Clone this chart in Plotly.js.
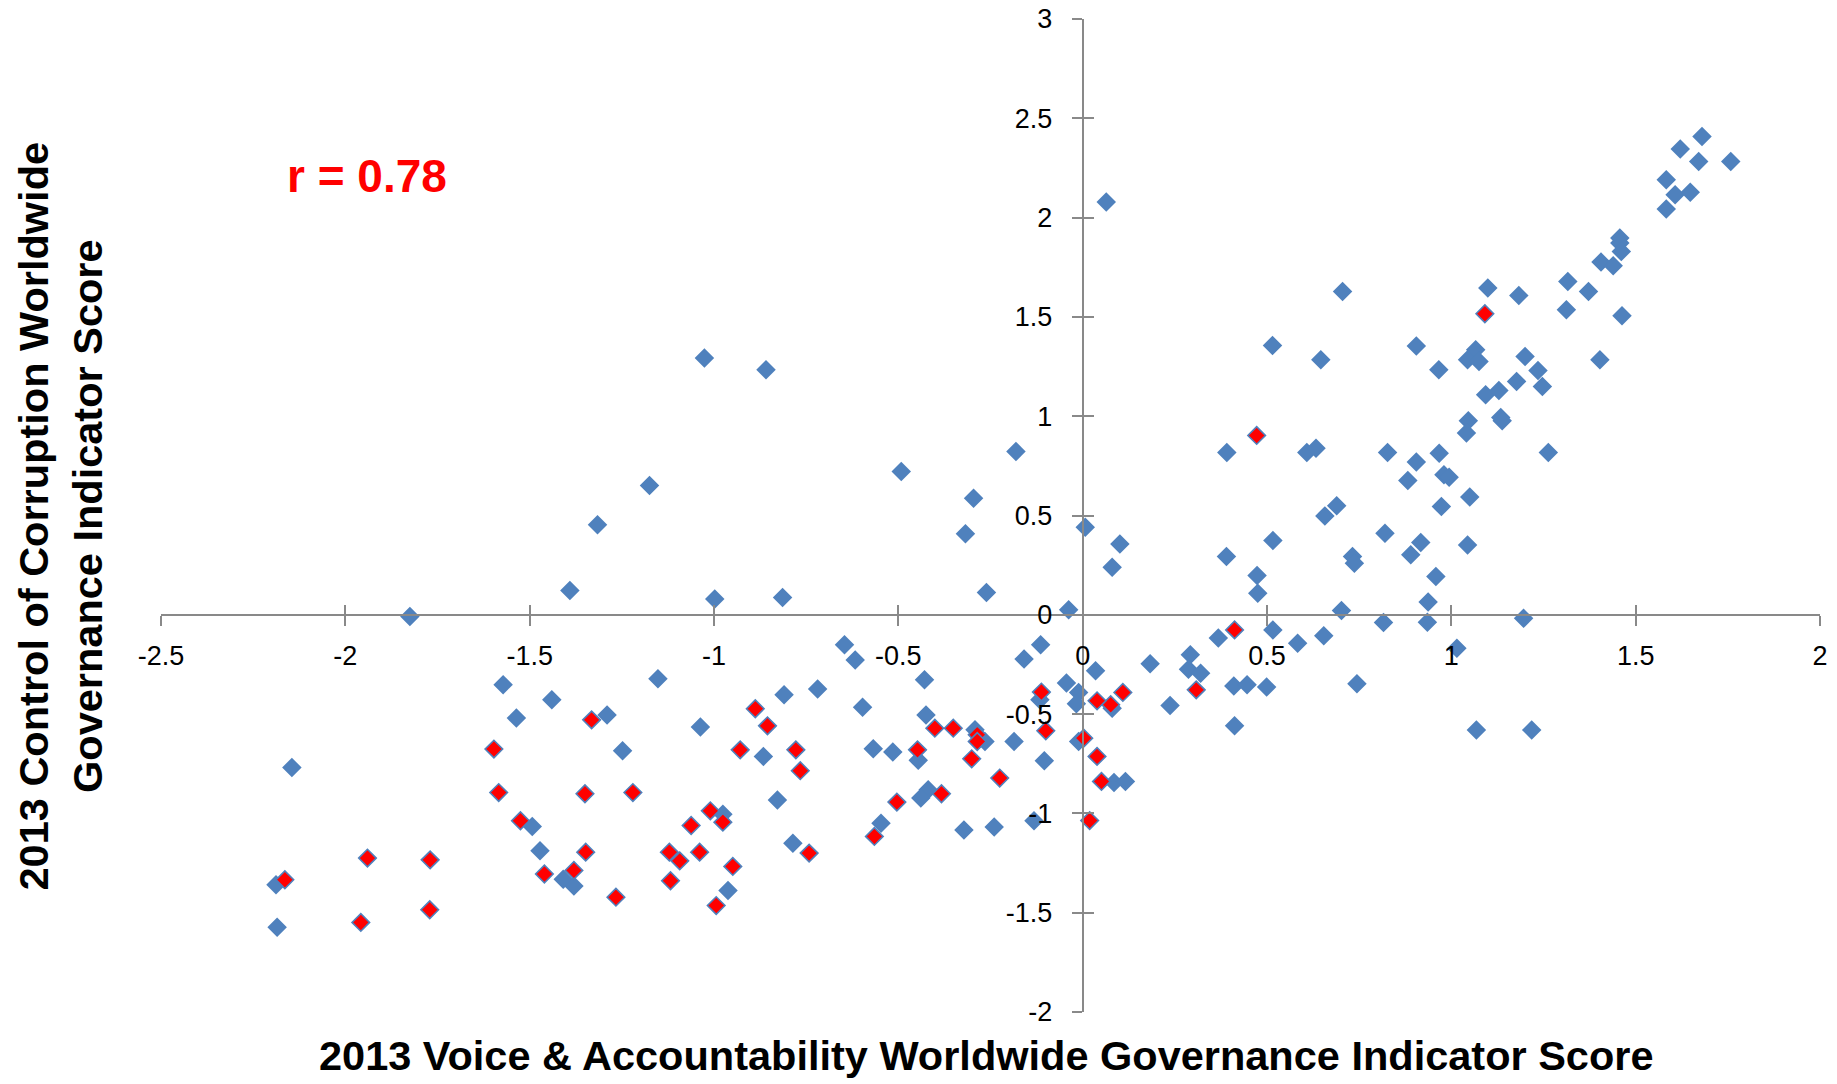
<!DOCTYPE html>
<html>
<head>
<meta charset="utf-8">
<script src="https://cdn.plot.ly/plotly-3.0.1.min.js"></script>
<style>
html,body{margin:0;padding:0;background:#fff;}
#chart{width:1837px;height:1084px;}
</style>
</head>
<body>
<div id="chart"></div>
<script>
// Blue series: countries (Voice & Accountability, Control of Corruption)
const blueX = [1.680,1.621,1.671,1.758,1.583,1.607,1.648,1.583,0.064,1.457,1.457,1.461,1.406,1.439,1.316,1.372,1.183,1.312,1.463,1.200,1.235,1.403,1.177,1.247,0.705,1.099,0.515,0.646,0.905,0.966,1.066,1.044,1.075,1.093,1.129,1.046,1.041,1.134,1.138,0.967,1.263,0.905,0.980,0.994,1.050,0.973,1.044,0.391,0.608,0.633,0.827,0.882,0.657,0.689,0.820,0.917,0.101,0.516,0.390,0.732,0.890,0.080,0.473,0.475,0.737,0.958,0.937,0.935,0.702,0.816,0.516,0.583,0.654,0.368,0.292,0.287,0.320,0.183,0.410,0.446,0.499,0.237,0.412,0.744,1.015,0.035,0.080,1.196,1.068,1.218,
  -0.261,-0.038,-0.646,-0.617,-0.114,-0.159,-0.429,-0.044,-0.011,-0.017,-0.116,-0.597,-0.425,-0.292,-0.265,-0.186,-0.568,-0.515,-0.446,-0.104,-0.011,0.085,0.116,-0.419,-0.439,-0.547,-0.322,-0.240,-0.132,
  -1.152,-1.440,-0.810,-0.719,-1.290,-1.037,-1.248,-0.866,-0.828,-0.976,-0.786,-0.962,-1.409,-1.380,-1.572,-1.536,-2.145,-1.493,-1.472,-2.188,-2.185,
  -1.026,-0.859,-1.175,-1.316,-1.391,-0.998,-0.814,-1.825,-0.492,-0.181,-0.296,-0.318,0.007];
const blueY = [2.408,2.345,2.283,2.283,2.190,2.115,2.128,2.043,2.078,1.897,1.872,1.829,1.776,1.757,1.678,1.628,1.608,1.536,1.506,1.301,1.230,1.284,1.175,1.150,1.628,1.645,1.356,1.284,1.354,1.234,1.334,1.284,1.275,1.108,1.129,0.977,0.915,0.994,0.977,0.814,0.817,0.770,0.705,0.693,0.593,0.545,0.352,0.817,0.817,0.839,0.817,0.676,0.498,0.549,0.411,0.364,0.356,0.374,0.294,0.294,0.302,0.240,0.198,0.109,0.260,0.193,0.064,-0.037,0.022,-0.039,-0.076,-0.143,-0.106,-0.117,-0.201,-0.274,-0.294,-0.247,-0.358,-0.352,-0.364,-0.457,-0.559,-0.347,-0.168,-0.282,-0.470,-0.018,-0.580,-0.580,
  0.112,0.025,-0.151,-0.227,-0.151,-0.223,-0.327,-0.344,-0.391,-0.448,-0.428,-0.465,-0.504,-0.579,-0.638,-0.638,-0.675,-0.691,-0.733,-0.735,-0.638,-0.844,-0.839,-0.881,-0.923,-1.049,-1.083,-1.069,-1.037,
  -0.322,-0.428,-0.403,-0.373,-0.504,-0.565,-0.685,-0.713,-0.932,-1.004,-1.150,-1.388,-1.331,-1.365,-0.352,-0.520,-0.769,-1.066,-1.188,-1.359,-1.573,
  1.293,1.234,0.651,0.453,0.122,0.079,0.087,-0.008,0.722,0.822,0.587,0.408,0.441];

// Red series: highlighted countries
const redX = [0.472,1.091,0.412,0.308,0.109,0.076,0.039,-0.112,-0.401,-0.351,-0.286,-0.286,-0.100,-0.448,-0.301,0.003,0.039,-0.225,0.051,-0.383,-0.504,-0.565,0.019,
  -1.332,-0.888,-0.855,-0.929,-0.778,-0.766,-1.350,-1.220,-1.010,-0.976,-1.062,-1.121,-1.093,-1.039,-0.949,-0.742,-0.994,-1.118,-1.348,-1.380,-1.460,-1.266,
  -1.597,-1.584,-1.525,-1.940,-1.770,-2.164,-1.958,-1.771];
const redY = [0.903,1.516,-0.076,-0.378,-0.391,-0.453,-0.433,-0.389,-0.571,-0.571,-0.604,-0.638,-0.584,-0.680,-0.725,-0.621,-0.713,-0.822,-0.839,-0.901,-0.943,-1.116,-1.036,
  -0.529,-0.473,-0.559,-0.680,-0.680,-0.785,-0.901,-0.895,-0.987,-1.044,-1.061,-1.195,-1.239,-1.195,-1.267,-1.200,-1.464,-1.339,-1.195,-1.287,-1.305,-1.422,
  -0.676,-0.895,-1.037,-1.225,-1.234,-1.334,-1.549,-1.485];

const xTickVals = [-2.5,-2,-1.5,-1,-0.5,0,0.5,1,1.5,2];
const xTickText = ['-2.5','-2','-1.5','-1','-0.5','0','0.5','1','1.5','2'];
const yTickVals = [-2,-1.5,-1,-0.5,0,0.5,1,1.5,2,2.5,3];
const yTickText = ['-2','-1.5','-1','-0.5','0','0.5','1','1.5','2','2.5','3'];

const xTitle = '2013 Voice &amp; Accountability Worldwide Governance Indicator Score';
const yTitle = '2013 Control of Corruption Worldwide<br>Governance Indicator Score';
const rLabel = 'r = 0.78';

const xRange = [-2.5, 2];
const yRange = [-2, 3];

const axisGray = '#898989';
const tickFont = {family: 'Liberation Sans, Arial, sans-serif', size: 27, color: '#000'};
const titleFont = {family: 'Liberation Sans, Arial, sans-serif', size: 41.5, color: '#000'};

const xPos = (0 - yRange[0]) / (yRange[1] - yRange[0]);
const yPos = (0 - xRange[0]) / (xRange[1] - xRange[0]);

const traces = [
  {x: blueX, y: blueY, type: 'scatter', mode: 'markers', showlegend: false,
   marker: {symbol: 'diamond', size: 15, color: '#4F81BD', line: {width: 0}}},
  {x: redX, y: redY, type: 'scatter', mode: 'markers', showlegend: false,
   marker: {symbol: 'diamond', size: 13.5, color: '#FF0000', line: {width: 1.6, color: '#4F81BD'}}},
  {x: [], y: [], type: 'scatter', mode: 'markers', xaxis: 'x2', yaxis: 'y2', showlegend: false, hoverinfo: 'skip'}
];

const baseAxis = {showgrid: false, zeroline: false, automargin: false, fixedrange: true};

const layout = {
  width: 1837, height: 1084,
  paper_bgcolor: '#fff', plot_bgcolor: '#fff',
  margin: {l: 161, r: 17, t: 19, b: 72, pad: 0},
  showlegend: false,
  xaxis: Object.assign({}, baseAxis, {
    range: xRange, anchor: 'free', position: xPos,
    showline: true, linecolor: axisGray, linewidth: 2,
    ticks: 'outside', ticklen: 10, tickwidth: 2, tickcolor: axisGray,
    tickmode: 'array', tickvals: xTickVals, ticktext: xTickText,
    tickfont: tickFont, ticklabelstandoff: 7
  }),
  yaxis: Object.assign({}, baseAxis, {
    range: yRange, anchor: 'free', position: yPos,
    showline: true, linecolor: axisGray, linewidth: 2,
    ticks: 'outside', ticklen: 10, tickwidth: 2, tickcolor: axisGray,
    tickmode: 'array', tickvals: yTickVals, ticktext: yTickText,
    tickfont: tickFont, ticklabelstandoff: 14
  }),
  xaxis2: Object.assign({}, baseAxis, {
    range: xRange, overlaying: 'x', anchor: 'free', position: xPos,
    showline: false, ticks: 'inside', ticklen: 10, tickwidth: 2, tickcolor: axisGray,
    tickmode: 'array', tickvals: xTickVals, showticklabels: false
  }),
  yaxis2: Object.assign({}, baseAxis, {
    range: yRange, overlaying: 'y', anchor: 'free', position: yPos,
    showline: false, ticks: 'inside', ticklen: 10, tickwidth: 2, tickcolor: axisGray,
    tickmode: 'array', tickvals: yTickVals, showticklabels: false
  }),
  annotations: [
    {text: '<b>' + xTitle + '</b>', xref: 'paper', yref: 'paper', x: 0.4976, y: -0.044,
     xanchor: 'center', yanchor: 'middle', showarrow: false, borderpad: 0, font: titleFont},
    {text: '<b>' + yTitle + '</b>', xref: 'paper', yref: 'paper', x: -0.0603, y: 0.5,
     xanchor: 'center', yanchor: 'middle', textangle: -90, showarrow: false, font: titleFont},
    {text: '<b>' + rLabel + '</b>', xref: 'x', yref: 'y', x: -1.941, y: 2.21,
     xanchor: 'center', yanchor: 'middle', showarrow: false,
     font: {family: 'Liberation Sans, Arial, sans-serif', size: 46, color: '#FF0000'}}
  ]
};

Plotly.newPlot('chart', traces, layout, {displayModeBar: false, staticPlot: true});
</script>
</body>
</html>
